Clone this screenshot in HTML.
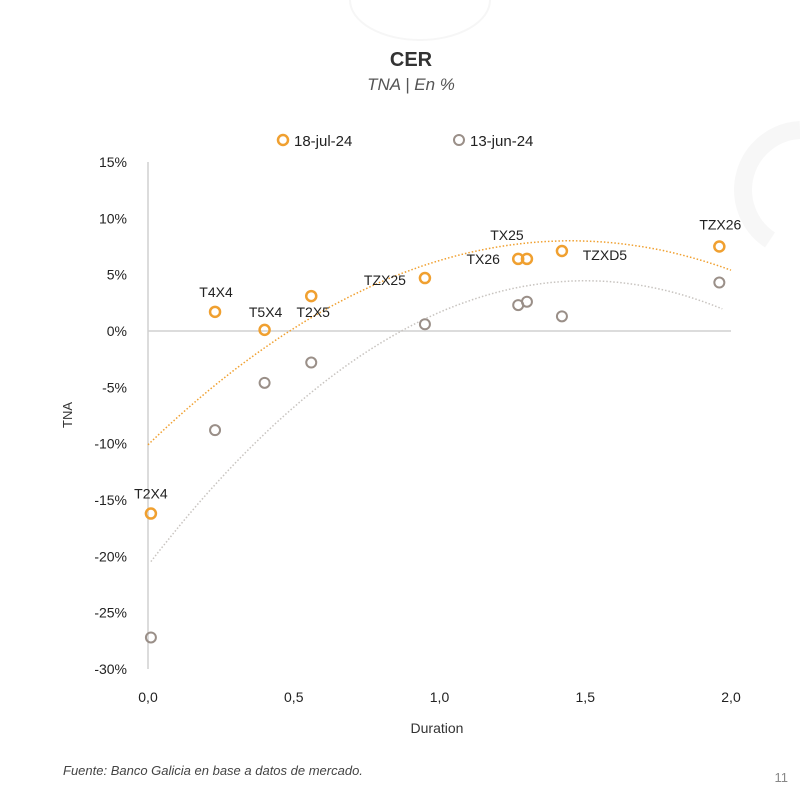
<!DOCTYPE html>
<html><head><meta charset="utf-8"><style>
html,body{margin:0;padding:0;background:#fff;}
svg text{font-family:"Liberation Sans",sans-serif;}
</style></head><body>
<svg id="chart" width="800" height="800" viewBox="0 0 800 800" xmlns="http://www.w3.org/2000/svg">
<path d="M350 0 A70 40 0 0 0 490 0" fill="none" stroke="#f6f6f6" stroke-width="2"/>
<path d="M800 130 A60 60 0 0 0 770 240" fill="none" stroke="#f7f7f7" stroke-width="18"/>
<text x="411" y="66" text-anchor="middle" font-size="20" font-weight="bold" fill="#333">CER</text>
<text x="411" y="90" text-anchor="middle" font-size="17" font-style="italic" fill="#555">TNA | En %</text>
<g>
<circle cx="283" cy="140" r="5" fill="none" stroke="#f0a030" stroke-width="2.5"/>
<text x="294" y="146" font-size="15" fill="#222">18-jul-24</text>
<circle cx="459" cy="140" r="5" fill="none" stroke="#9a8f88" stroke-width="2"/>
<text x="470" y="146" font-size="15" fill="#222">13-jun-24</text>
</g>
<g id="axes"></g>
<g id="marks"></g>
<text x="437" y="733" text-anchor="middle" font-size="14" fill="#333">Duration</text>
<text transform="translate(72,415) rotate(-90)" text-anchor="middle" font-size="13" fill="#333">TNA</text>
<text x="63" y="775" font-size="13" font-style="italic" fill="#444">Fuente: Banco Galicia en base a datos de mercado.</text>
<text x="788" y="782" text-anchor="end" font-size="13" fill="#888">11</text>
</svg>
<script>
const bondNames = ["T2X4","T4X4","T5X4","T2X5","TZX25","TX26","TX25","TZXD5","TZX26"];
const durations = [0.01,0.23,0.40,0.56,0.95,1.27,1.30,1.42,1.96];
const tnaJul = [-16.2,1.7,0.1,3.1,4.7,6.4,6.4,7.1,7.5];
const tnaJun = [-27.2,-8.8,-4.6,-2.8,0.6,2.3,2.6,1.3,4.3];
const trendJul = [-10.1,24.97,-8.61];
const trendJun = [-20.8,33.7,-11.24];
const yTicks = [15,10,5,0,-5,-10,-15,-20,-25,-30];
const xTicks = [0,0.5,1,1.5,2];
const labelOffsets = [[0,-20],[1,-20],[1,-18],[2,16],[-40,2],[-35,0],[-20,-24],[43,4],[1,-22]];

const NS="http://www.w3.org/2000/svg";
const X0=148,X1=731,Y0=162,Y1=669,yMax=15,yMin=-30;
const xs=v=>X0+(v-0)/(2-0)*(X1-X0);
const ys=v=>Y0+(yMax-v)/(yMax-yMin)*(Y1-Y0);
function mk(tag,attrs,parent){const e=document.createElementNS(NS,tag);for(const k in attrs)e.setAttribute(k,attrs[k]);parent.appendChild(e);return e;}
const axes=document.getElementById('axes'),marks=document.getElementById('marks');
let l=mk('line',{x1:X0,y1:Y0,x2:X0,y2:Y1,stroke:'#d0d0d0','stroke-width':1.5},axes);


l=mk('line',{x1:X0,y1:ys(0),x2:X1,y2:ys(0),stroke:'#d0d0d0','stroke-width':1.5},axes);


yTicks.forEach(t=>{const e=mk('text',{x:127,y:ys(t)+5,'text-anchor':'end','font-size':14,fill:'#222'},axes);e.textContent=t+'%';

});
xTicks.forEach(t=>{const e=mk('text',{x:xs(t),y:702,'text-anchor':'middle','font-size':14,fill:'#222'},axes);e.textContent=t.toFixed(1).replace('.',',');

});
function trend(c,x0,x1,color,name){let d='';for(let i=0;i<=60;i++){const x=x0+(x1-x0)*i/60;const y=c[0]+c[1]*x+c[2]*x*x;d+=(i?'L':'M')+xs(x).toFixed(1)+' '+ys(y).toFixed(1);}
const p=mk('path',{d:d,fill:'none',stroke:color,'stroke-width':1.5,'stroke-dasharray':'1.5 2'},marks);

}
trend(trendJul,0,2,'#f0a030','trendline-jul');
trend(trendJun,0.01,1.97,'#c8c4c0','trendline-jun');
durations.forEach((d,i)=>{
const c=mk('circle',{cx:xs(d),cy:ys(tnaJun[i]),r:5,fill:'none',stroke:'#9a8f88','stroke-width':2},marks);


});
durations.forEach((d,i)=>{
const c=mk('circle',{cx:xs(d),cy:ys(tnaJul[i]),r:5,fill:'none',stroke:'#f0a030','stroke-width':2.5},marks);


const o=labelOffsets[i];
const t=mk('text',{x:xs(d)+o[0],y:ys(tnaJul[i])+o[1]+5,'text-anchor':'middle','font-size':14,fill:'#222'},marks);
t.textContent=bondNames[i];


});
</script>
</body></html>
